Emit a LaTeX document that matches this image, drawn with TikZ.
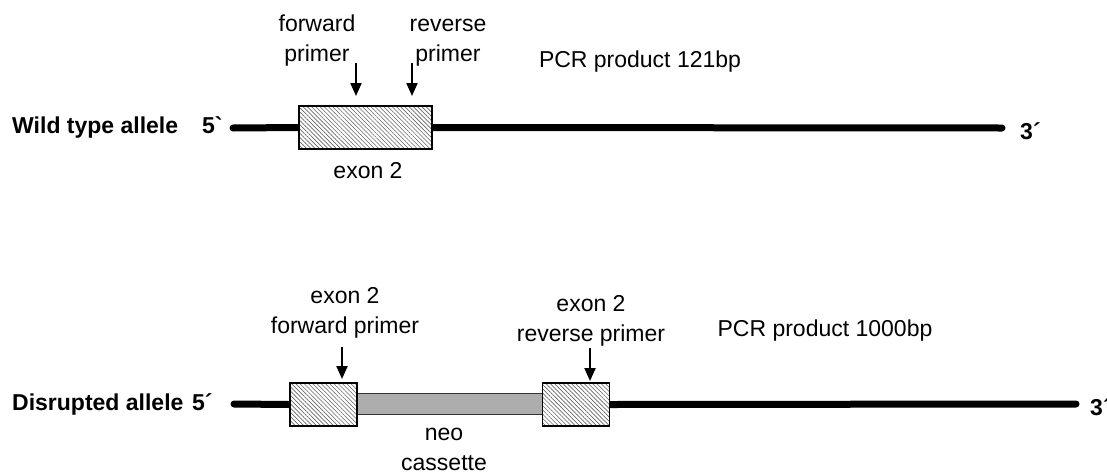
\documentclass[tikz,border=0pt]{standalone}
\usepackage{fontspec}
\setmainfont{Liberation Sans}[Ligatures=TeXOff]
\usetikzlibrary{arrows.meta,patterns.meta}

\begin{document}
\begin{tikzpicture}[x=1pt,y=-1pt,
  lbl/.style={inner sep=0pt, font=\fontsize{23}{29.5}\selectfont, align=center, anchor=base},
  tag/.style={inner sep=0pt, font=\fontsize{23}{29.5}\selectfont\bfseries, anchor=base west},
  dna/.style={line width=7pt, line cap=round},
  exonbox/.style={draw, line width=1.6pt, inner sep=0pt,
    minimum height=43pt, preaction={fill=white},
    pattern={Lines[angle=-45,distance=3pt,line width=0.6pt]}, pattern color=black!60},
  neobox/.style={draw=black!80, line width=1.6pt, fill=black!32, inner sep=0pt,
    minimum width=186pt, minimum height=21pt},
  primerarrow/.style={line width=2.2pt, -{Triangle[width=11pt,length=13pt]}},
]
\useasboundingbox (0,0) rectangle (1107,474);

% ---------- wild type allele ----------
% (the base of a two-line label is the baseline of its last line)
\node[tag] (wtname) at (12,133) {Wild type allele};
\node[tag] (wt5lbl) at (202,133) {5`};
\node[tag] (wt3lbl) at (1020,139) {3´};
\coordinate (wt5) at (233,128);
\coordinate (wt3) at (1002,128);
\node[exonbox, minimum width=133pt] (wtexon) at (365.5,127.5) {};
\draw[dna] (wt5) -- (wtexon.west);
\draw[dna] (wtexon.east) -- (wt3);
\node[exonbox, minimum width=133pt] at (wtexon) {};

\node[lbl] (wtexonlbl) at (368,178) {exon 2};
\node[lbl] (wtfwd) at (317,61) {forward\\primer};
\node[lbl] (wtrev) at (448,61) {reverse\\primer};
\node[lbl] (wtpcr) at (640,67) {PCR product 121bp};

\coordinate (wtfwdtop) at (356,63);
\coordinate (wtfwdtip) at (356,96);
\coordinate (wtrevtop) at (412,63);
\coordinate (wtrevtip) at (412,96);
\draw[primerarrow] (wtfwdtop) -- (wtfwdtip);
\draw[primerarrow] (wtrevtop) -- (wtrevtip);

% ---------- disrupted allele ----------
\node[tag] (dname) at (12,410) {Disrupted allele};
\node[tag] (d5lbl) at (192,410) {5´};
\node[tag] (d3lbl) at (1090,415) {3´};
\coordinate (d5) at (234,404);
\coordinate (d3) at (1076,404);
\node[neobox] (neo) at (450,404) {};
\node[exonbox, minimum width=67pt] (dexonA) at (323.5,404.5) {};
\node[exonbox, minimum width=67pt] (dexonB) at (576,404.5) {};
\draw[dna] (d5) -- (dexonA.west);
\draw[dna] (dexonB.east) -- (d3);
\node[exonbox, minimum width=67pt] at (dexonA) {};
\node[exonbox, minimum width=67pt] at (dexonB) {};

\node[lbl] (neolbl) at (444,470) {neo\\cassette};
\node[lbl] (dfwd) at (345,333) {exon 2\\forward primer};
\node[lbl] (drev) at (591,341) {exon 2\\reverse primer};
\node[lbl] (dpcr) at (825,336) {PCR product 1000bp};

\coordinate (dfwdtop) at (342,347);
\coordinate (dfwdtip) at (342,379);
\coordinate (drevtop) at (590,348);
\coordinate (drevtip) at (590,381);
\draw[primerarrow] (dfwdtop) -- (dfwdtip);
\draw[primerarrow] (drevtop) -- (drevtip);
\end{tikzpicture}
\end{document}
